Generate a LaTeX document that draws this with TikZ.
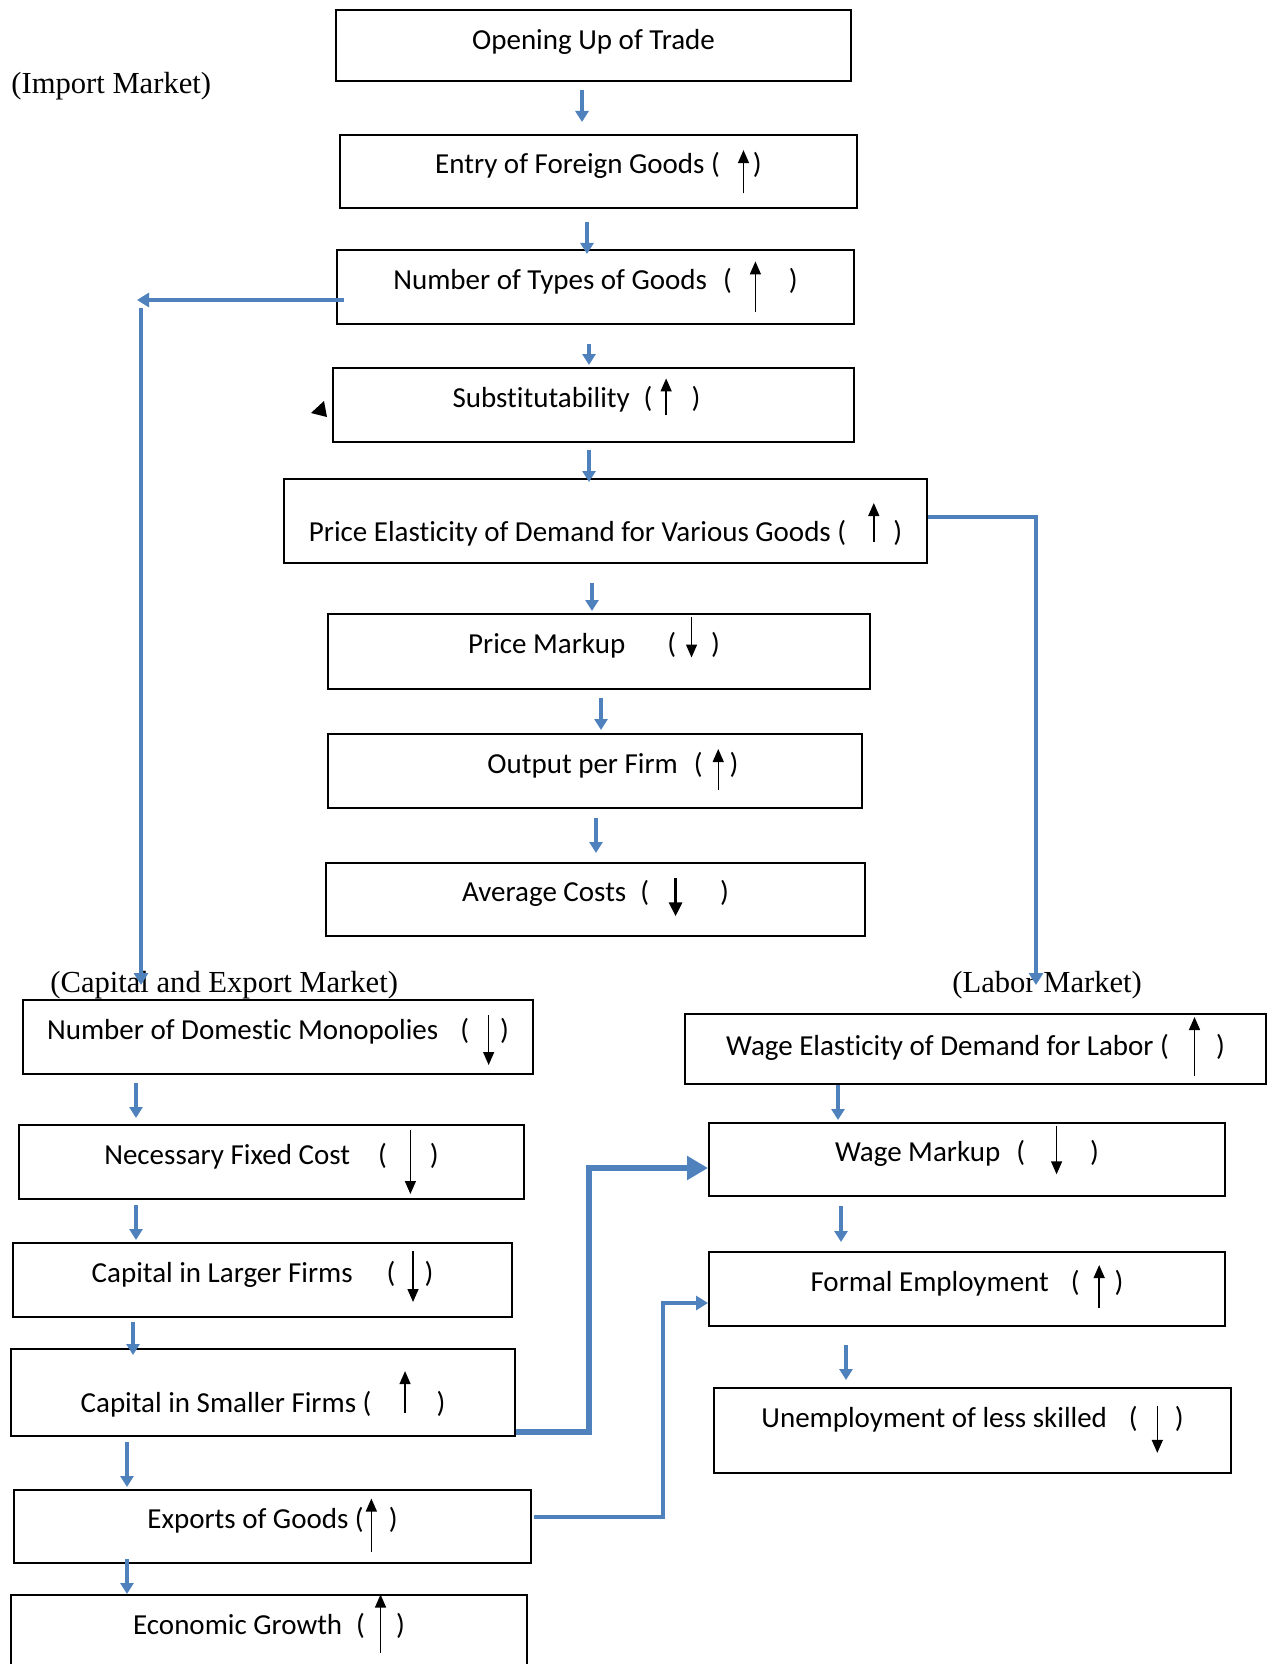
\documentclass[tikz,border=0pt]{standalone}
\usepackage{xcolor}
\usepackage{fontspec}
\usepackage{tikz}
\usetikzlibrary{arrows.meta}

\newfontfamily\boxfont[Ligatures=NoCommon, Contextuals=NoAlternate]{Carlito}
\newfontfamily\capfont{Liberation Serif}
\definecolor{flowblue}{RGB}{79,129,189}

\newcommand{\upa}[2]{\smash{\tikz[baseline=0pt,x=1pt,y=1pt]\draw[line width=0.7pt,-{Triangle[width=5.5pt,length=6.5pt]}] (0,-#2) -- (0,#1);}}
\newcommand{\dna}[2]{\smash{\tikz[baseline=0pt,x=1pt,y=1pt]\draw[line width=0.7pt,-{Triangle[width=5.5pt,length=6.5pt]}] (0,#1) -- (0,-#2);}}
\newcommand{\dnb}[2]{\smash{\tikz[baseline=0pt,x=1pt,y=1pt]\draw[line width=1.4pt,-{Triangle[width=6.5pt,length=7pt]}] (0,#1) -- (0,-#2);}}

\begin{document}
\begin{tikzpicture}[x=0.5pt,y=-0.5pt,
    box/.style 2 args={draw, line width=1pt, inner sep=0pt,
        minimum width=#1pt, minimum height=#2pt,
        font=\boxfont\fontsize{14.5}{17}\selectfont,
        text height=2pt, text depth=0pt},
    mkt/.style={inner sep=0pt, font=\capfont\fontsize{15.3}{18}\selectfont},
    barr/.style={flowblue, line width=2.1pt, -{Triangle[width=6.5pt,length=5.5pt]}},
    bline/.style={flowblue, line width=1.9pt, -{Triangle[width=7pt,length=6pt]}},
    bthick/.style={flowblue, line width=2.7pt, -{Triangle[width=11.5pt,length=10.5pt]}}
]
    \useasboundingbox (0,0) rectangle (1271,1664);

    % import market
    \node[mkt, anchor=base west] (importlbl) at (11,94) {(Import Market)};
    \node[box={257.5}{35.5}, text height=4pt] (open) at (593.5,45.5) {Opening Up of Trade};
    \node[box={258.5}{36.5}] (entry) at (598.5,171.5)
        {Entry of Foreign Goods (\hspace{9pt}\upa{11.7}{10}\hspace{2pt})};
    \node[box={258.5}{37}] (numtypes) at (595.5,287)
        {Number of Types of Goods\hspace{8pt}(\hspace{9pt}\upa{13.8}{11.7}\hspace{14pt})};
    \node[box={260.5}{37}] (subst) at (593.5,405)
        {Substit\kern0pt utability\hspace{7pt}(\hspace{4pt}\upa{14.3}{4.2}\hspace{10pt})\kern17pt};
    \node[box={321.5}{42}, text height=20pt] (priceel) at (605.5,521)
        {Price Elastic\kern0pt ity of Demand for Various Goods (\hspace{11pt}\upa{19}{0.5}\hspace{7pt})};
    \node[box={271}{37.5}] (pricemk) at (599,651.5)
        {Price Markup\hspace{21pt}(\hspace{5pt}\dna{18.5}{2}\hspace{7pt})\kern5pt};
    \node[box={267}{37}] (output) at (595,771)
        {\hspace{18pt}Output per Firm\hspace{8pt}(\hspace{5pt}\upa{12}{8.5}\hspace{3pt})};
    \node[box={269.5}{36.5}] (avgcost) at (595.5,899.5)
        {Average Costs\hspace{7pt}(\hspace{10pt}\dnb{11.7}{7.4}\hspace{19pt})};
    \fill (311,413) -- (324,401) -- (327,417) -- cycle;

    % capital and export market
    \node[mkt, anchor=base west] (caplbl) at (50,992) {(Capital and Export Market)};
    \node[box={255}{37}] (domono) at (278,1037)
        {Number of Domestic Monopolies\hspace{11pt}(\hspace{7pt}\dna{12}{13}\hspace{3pt})};
    \node[box={252.5}{37}] (fixcost) at (271.5,1162)
        {Necessary Fixed Cost\hspace{14pt}(\hspace{9pt}\dna{17}{15}\hspace{7pt})};
    \node[box={249.5}{37}] (largefirm) at (262.5,1280)
        {Capital in Larger Firms\hspace{17pt}(\hspace{6pt}\dna{15.4}{10}\hspace{3pt})};
    \node[box={252}{43.5}, text height=20pt] (smallfirm) at (263,1392.5)
        {Capital in Smaller Firms (\hspace{14pt}\upa{20.7}{0}\hspace{13pt})};
    \node[box={258.5}{36.5}] (exports) at (272.5,1526.5)
        {Exports of Goods (\hspace{1pt}\upa{15}{11.7}\hspace{6pt})};
    \node[box={258}{37.5}] (growth) at (269,1632.5)
        {Economic Growth\hspace{7pt}(\hspace{5pt}\upa{20}{9}\hspace{5pt})};

    % labor market
    \node[mkt, anchor=base west] (laborlbl) at (952,992) {(Labor Market)};
    \node[box={290.5}{35}, text height=6pt] (wageel) at (975.5,1049)
        {Wage Elastic\kern0pt ity of Demand for Labor (\hspace{10pt}\upa{19}{10.6}\hspace{8pt})};
    \node[box={258}{36.5}] (wagemk) at (967,1159.5)
        {Wage Markup\hspace{8pt}(\hspace{13pt}\dna{18}{6.4}\hspace{14pt})};
    \node[box={258}{37}] (formal) at (967,1289)
        {Formal Employment\hspace{11pt}(\hspace{7pt}\upa{13}{8.5}\hspace{5pt})};
    \node[box={258.5}{42.5}, text height=0pt, text depth=3pt] (unemp) at (972.5,1430.5)
        {Unemployment of less skilled\hspace{11pt}(\hspace{7pt}\dna{11}{12.7}\hspace{6pt})};

    \draw[barr] ([xshift=-5.75pt,yshift=-4pt]open.south) -- ([xshift=-8.25pt,yshift=6pt]entry.north);
    \draw[barr] ([xshift=-5.75pt,yshift=-6.5pt]entry.south) -- ([xshift=-4.25pt,yshift=-2.5pt]numtypes.north);
    \draw[barr] ([xshift=-3.25pt,yshift=-9.5pt]numtypes.south) -- ([xshift=-2.25pt,yshift=1pt]subst.north);
    \draw[barr] ([xshift=-2.25pt,yshift=-3.5pt]subst.south) -- ([xshift=-8.25pt,yshift=-2pt]priceel.north);
    \draw[barr] ([xshift=-6.75pt,yshift=-9.5pt]priceel.south) -- ([xshift=-3.5pt,yshift=1pt]pricemk.north);
    \draw[barr] ([xshift=1pt,yshift=-4pt]pricemk.south) -- ([xshift=3pt,yshift=1.5pt]output.north);
    \draw[barr] ([xshift=0.5pt,yshift=-4.5pt]output.south) -- ([xshift=0.25pt,yshift=4.5pt]avgcost.north);

    \draw[barr] ([xshift=-71pt,yshift=-4pt]domono.south) -- ([xshift=-67.75pt,yshift=3pt]fixcost.north);
    \draw[barr] ([xshift=-67.75pt,yshift=-2.5pt]fixcost.south) -- ([xshift=-63.25pt,yshift=1pt]largefirm.north);
    \draw[barr] ([xshift=-64.75pt,yshift=-2pt]largefirm.south) -- ([xshift=-65pt,yshift=-3.5pt]smallfirm.north);
    \draw[barr] ([xshift=-68pt,yshift=-2.5pt]smallfirm.south) -- ([xshift=-72.75pt,yshift=1pt]exports.north);
    \draw[barr] ([xshift=-72.75pt,yshift=2.5pt]exports.south) -- ([xshift=-71pt]growth.north);

    \draw[barr] ([xshift=-68.75pt]wageel.south) -- ([xshift=-64.5pt,yshift=1pt]wagemk.north);
    \draw[barr] ([xshift=-63pt,yshift=-4.5pt]wagemk.south) -- ([xshift=-63pt,yshift=4.5pt]formal.north);
    \draw[barr] ([xshift=-60.5pt,yshift=-9pt]formal.south) -- ([xshift=-63.25pt,yshift=3.5pt]unemp.north);

    \coordinate (lcorner) at (137,300);
    \coordinate (ldrop) at (141,308);
    \coordinate (capin) at (141,985);
    \draw[bline] ([xshift=4pt,yshift=-6.5pt]numtypes.west) -- (lcorner);
    \draw[bline] (ldrop) -- (capin);

    \coordinate (laborin) at (1036,985);
    \draw[bline] ([yshift=2pt]priceel.east) -| (laborin);

    \coordinate (smbend) at (589,1168);
    \draw[bthick] ([yshift=-19.75pt]smallfirm.east) -| (smbend) -- ([yshift=-4.25pt]wagemk.west);

    \coordinate (exbend) at (663,1303);
    \draw[bline] ([xshift=1pt,yshift=4.75pt]exports.east) -| (exbend) -- ([yshift=-7pt]formal.west);
\end{tikzpicture}
\end{document}
